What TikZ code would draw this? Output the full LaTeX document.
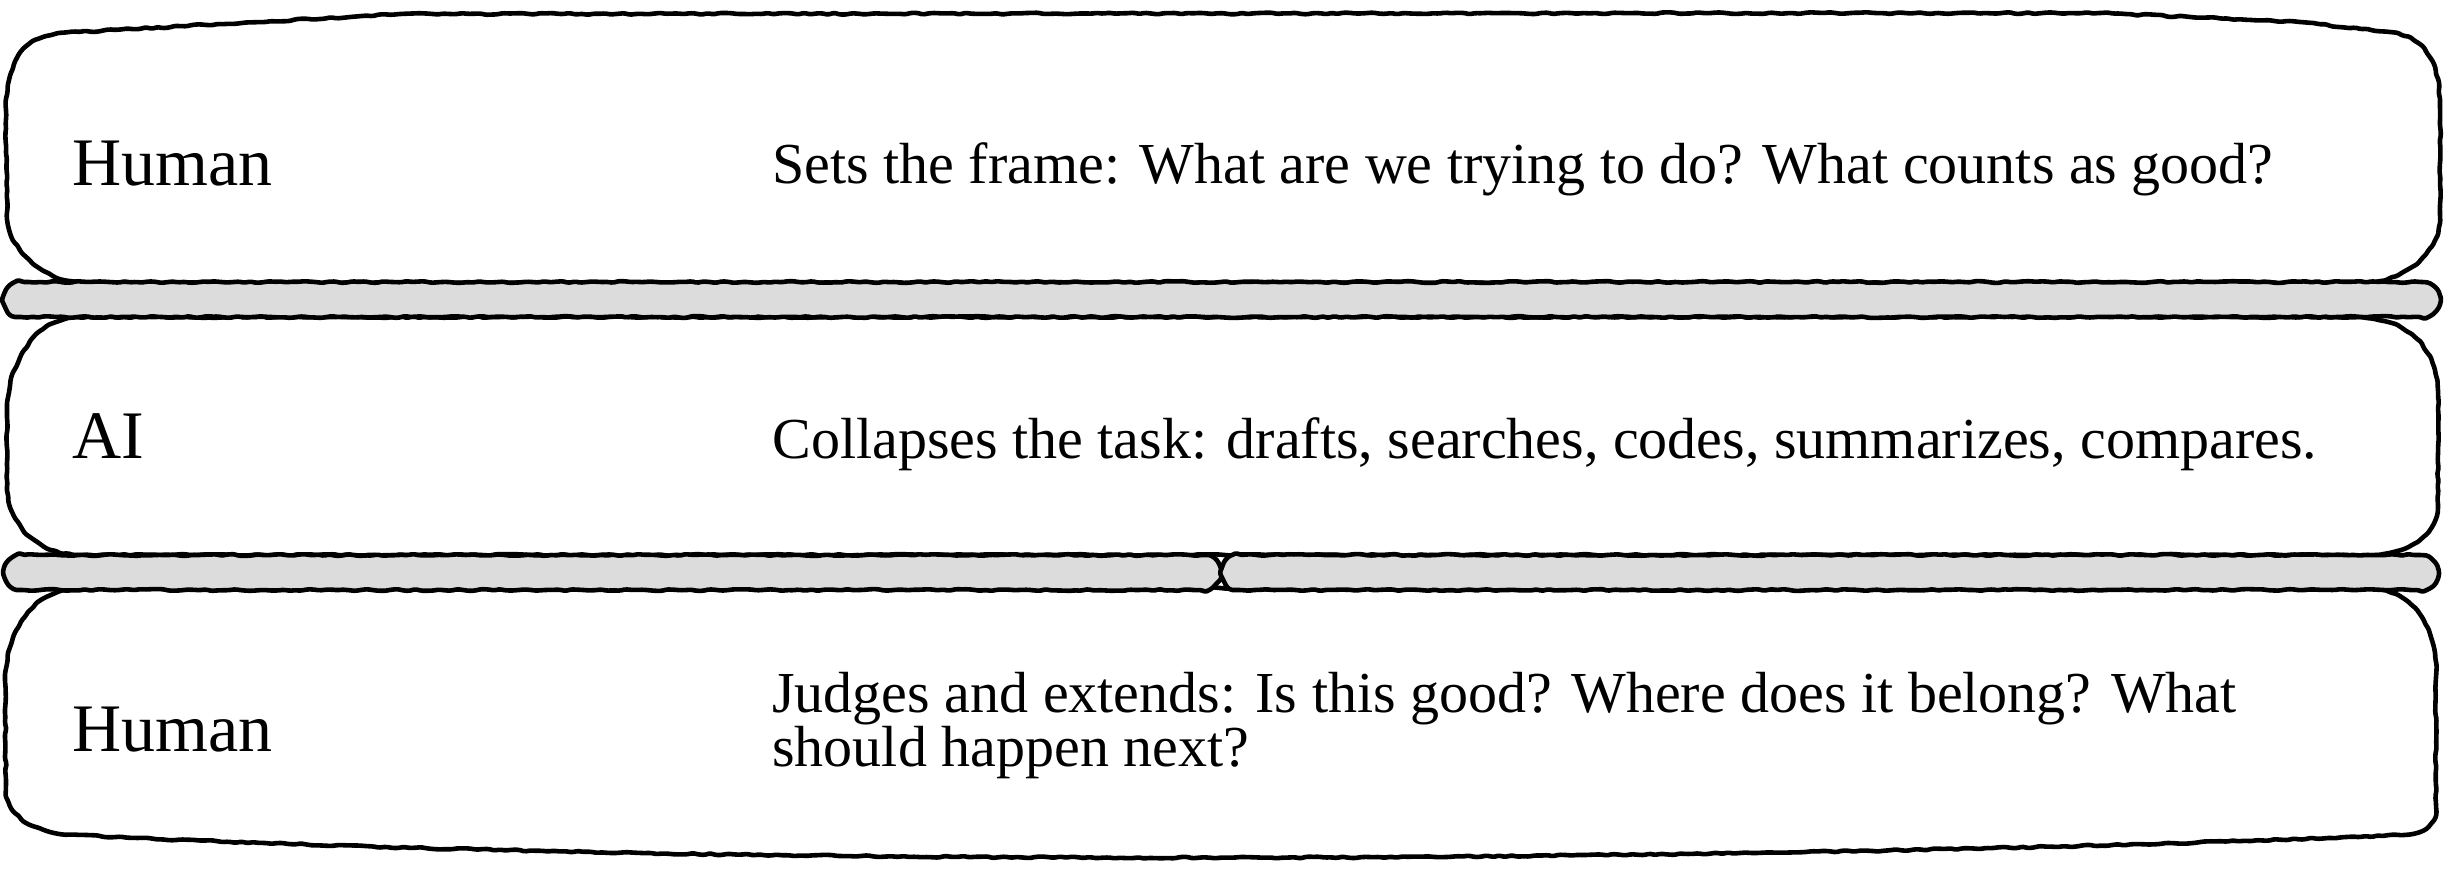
\documentclass[tikz,border=0pt]{standalone}
\usepackage{fontspec}
\setmainfont{Liberation Serif}
\usetikzlibrary{decorations.pathmorphing}
\definecolor{bargray}{HTML}{DCDCDC}
\begin{document}
\pgfmathsetseed{7}
\begin{tikzpicture}[x=0.5pt,y=-0.5pt,
  handline/.style={line width=2.3pt, line join=round, decorate,
    decoration={random steps,segment length=3pt,amplitude=0.45pt}, rounded corners=0.8pt},
  boxshape/.style={handline, draw=black, fill=white},
  barshape/.style={handline, draw=black, fill=bargray},
  lbl/.style={anchor=base west, inner sep=0pt, font=\fontsize{34pt}{30pt}\selectfont},
  desc/.style={anchor=base west, inner sep=0pt, align=left,
    font=\fontsize{29pt}{25pt}\selectfont}]
\useasboundingbox (0,0) rectangle (2444,872);

% box 1
\path[boxshape] (6,130) .. controls (5,70) and (15,40) .. (60,33) -- (400,14) -- (2100,13) -- (2300,22) -- (2390,32)
  .. controls (2425,38) and (2440,60) .. (2440,110) -- (2440,215)
  .. controls (2440,250) and (2410,280) .. (2365,283) -- (85,283)
  .. controls (40,280) and (10,250) .. (7,215) -- cycle;
% box 2
\path[boxshape] (1200,317) -- (2360,317) .. controls (2410,320) and (2438,350) .. (2438,395) -- (2438,505)
  .. controls (2438,535) and (2410,553) .. (2370,555) -- (75,555)
  .. controls (30,550) and (10,520) .. (7,490) -- (7,410)
  .. controls (8,370) and (30,322) .. (75,317) -- cycle;
% box 3
\path[boxshape] (1200,588) -- (2372,588) .. controls (2415,592) and (2436,630) .. (2436,675) -- (2436,805)
  .. controls (2436,825) and (2425,832) .. (2403,835)
  .. controls (1800,860) and (800,870) .. (70,835)
  .. controls (30,830) and (8,815) .. (6,790) -- (5,680)
  .. controls (8,630) and (30,592) .. (80,588) -- cycle;

% separator bars
\path[barshape] (600,282) -- (2422,282) arc[start angle=-90,end angle=90,radius=17.5]
  -- (21,317) arc[start angle=90,end angle=270,radius=17.5] -- cycle;
\path[barshape] (600,555) -- (1203,555) arc[start angle=-90,end angle=90,radius=17.5]
  -- (22,590) arc[start angle=90,end angle=270,radius=17.5] -- cycle;
\path[barshape] (1800,555) -- (2420,555) arc[start angle=-90,end angle=90,radius=17.5]
  -- (1239,590) arc[start angle=90,end angle=270,radius=17.5] -- cycle;

% texts
\node[lbl] (h1) at (72,185) {Human};
\node[desc] (t1) at (772,183) {Sets the frame: What are we trying to do? What counts as good?};
\node[lbl] (a2) at (72,458) {AI};
\node[desc] (t2) at (772,458) {Collapses the task: drafts, searches, codes, summarizes, compares.};
\node[lbl] (h3) at (72,751) {Human};
\node[desc] (t3) at (772,766) {Judges and extends: Is this good? Where does it belong? What\\[-0.5pt]should happen next?};
\end{tikzpicture}
\end{document}
